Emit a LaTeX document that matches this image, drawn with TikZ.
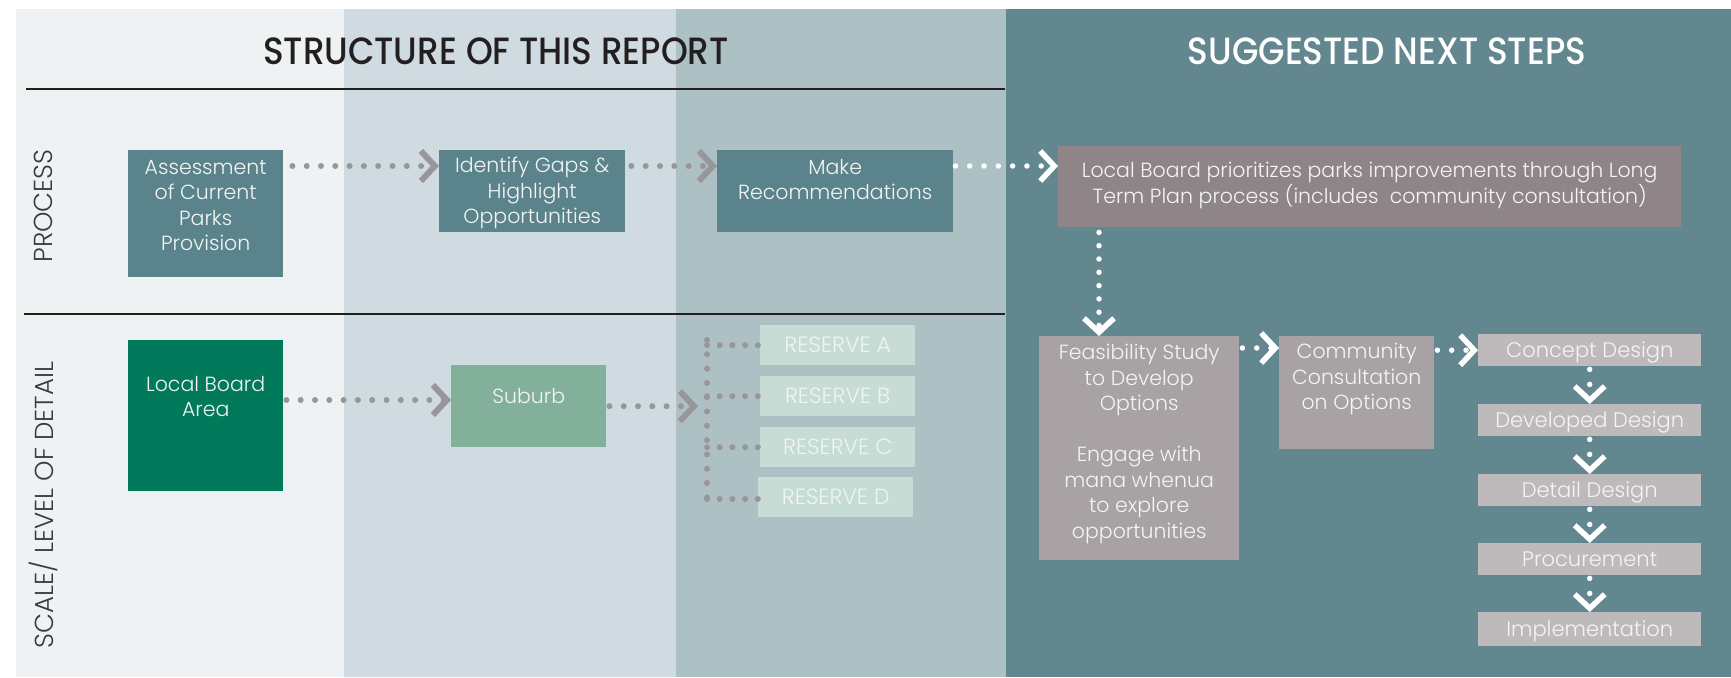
\documentclass[tikz,border=0pt]{standalone}
\usepackage{fontspec}
\setmainfont{Poppins Light}
\newfontfamily\titlefont[FakeStretch=0.9]{Poppins Medium}
\usetikzlibrary{arrows.meta,calc}
\definecolor{bandA}{HTML}{EEF2F3}
\definecolor{bandB}{HTML}{CFDBE0}
\definecolor{bandC}{HTML}{ADC0C4}
\definecolor{bandD}{HTML}{62878F}
\definecolor{tealbox}{HTML}{5B838B}
\definecolor{mauve}{HTML}{8F8588}
\definecolor{greybox}{HTML}{A8A2A5}
\definecolor{lgreybox}{HTML}{BEB9BB}
\definecolor{lbagreen}{HTML}{007A5A}
\definecolor{subgreen}{HTML}{82B09A}
\definecolor{resgreen}{HTML}{C6DCD4}
\definecolor{dotgrey}{HTML}{98969A}
\definecolor{titledark}{HTML}{231F20}
\definecolor{boxtext}{HTML}{F3F5F5}
\definecolor{restext}{HTML}{EEF5F2}
\definecolor{labeldark}{HTML}{3A3A3C}
\newcommand\bodyfont{\fontsize{20.5}{25.5}\selectfont}
\newcommand\boxtxt[4]{\parbox[t][#2pt][t]{#1pt}{\centering\vspace*{#3pt}#4}}
\begin{document}
\begin{tikzpicture}[x=1pt,y=-1pt,
  bx/.style={inner sep=0pt, anchor=north west, text=boxtext, font=\bodyfont},
  sbx/.style={inner sep=0pt, anchor=north west, text=boxtext, font=\fontsize{21}{25}\selectfont,
     text height=16pt, text depth=2pt},
  resbox/.style={sbx, fill=resgreen, text=restext, minimum width=155pt, minimum height=40pt,
     font=\fontsize{22}{25}\selectfont},
  stepbox/.style={sbx, fill=lgreybox, minimum width=223pt, minimum height=32pt},
  titletext/.style={font=\titlefont\fontsize{38}{40}\selectfont, inner sep=0pt},
  vlabel/.style={font=\fontsize{26}{28}\selectfont, text=labeldark, inner sep=0pt, rotate=90},
  rule/.style={draw=titledark, line width=1.6pt},
  gdots/.style={draw=dotgrey, line width=6pt, line cap=round, dash pattern=on 0pt off 14.3pt},
  wdots/.style={draw=white, line width=5.5pt, line cap=round, dash pattern=on 0pt off 14.3pt},
  gtip/.style={-{Straight Barb[length=14pt,width=30pt]}},
  vdots/.style={wdots, dash pattern=on 0pt off 15pt}
]
\useasboundingbox (0,0) rectangle (1731,677);
\fill[white] (0,0) rectangle (1731,677);
\fill[bandA] (16,9) rectangle (344,677);
\fill[bandB] (344,9) rectangle (676,677);
\fill[bandC] (676,9) rectangle (1006,677);
\fill[bandD] (1006,9) rectangle (1731,677);
\coordinate (r1a) at (26,89);
\coordinate (r1b) at (1005,89);
\coordinate (r2a) at (24,314);
\coordinate (r2b) at (1005,314);
\draw[rule] (r1a) -- (r1b);
\draw[rule] (r2a) -- (r2b);

\node[titletext, text=titledark] (t1) at (496,51) {STRUCTURE OF THIS REPORT};
\node[titletext, text=white] (t2) at (1387,51) {SUGGESTED NEXT STEPS};
\node[vlabel] (lp) at (43,206) {PROCESS};
\node[vlabel] (ls) at (43,505) {SCALE/ LEVEL OF DETAIL};

% process row
\node[bx, fill=tealbox] (assess) at (128,150) {\boxtxt{155}{127}{10}{Assessment\\of Current\\Parks\\Provision}};
\node[bx, fill=tealbox] (ident) at (439,150) {\boxtxt{186}{82}{7}{Identify Gaps \&\\Highlight\\Opportunities}};
\node[bx, fill=tealbox] (make) at (717,150) {\boxtxt{236}{82}{9}{Make\\Recommendations}};
\node[bx, fill=mauve] (prior) at (1058,146) {\boxtxt{623}{81}{16}{Local Board prioritizes parks improvements through Long\\Term Plan process (includes~ community consultation)}};

% scale row
\node[bx, fill=lbagreen] (lba) at (128,340) {\boxtxt{155}{151}{36}{Local Board\\Area}};
\node[bx, fill=subgreen] (suburb) at (451,365) {\boxtxt{155}{82}{23}{Suburb}};
\node[resbox] (resA) at (760,325) {RESERVE A};
\node[resbox] (resB) at (760,376) {RESERVE B};
\node[resbox] (resC) at (760,427) {RESERVE C};
\node[resbox] (resD) at (758,477) {RESERVE D};
\coordinate (spT) at (707,340);
\coordinate (spB) at (707,499);

% next steps
\node[bx, fill=greybox] (feas) at (1039,336) {\boxtxt{200}{224}{8}{Feasibility Study\\to Develop\\Options\\[25.5pt]Engage with\\mana whenua\\to explore\\opportunities}};
\node[bx, fill=greybox] (comm) at (1279,336) {\boxtxt{155}{113}{7}{Community\\Consultation\\on Options}};
\node[stepbox] (concept) at (1478,334) {Concept Design};
\node[stepbox] (devd) at (1478,404) {Developed Design};
\node[stepbox] (detd) at (1478,474) {Detail Design};
\node[stepbox] (proc) at (1478,543) {Procurement};
\node[stepbox, minimum height=34pt] (impl) at (1478,612) {Implementation};
\coordinate (fx) at ($(feas.north west)+(60,0)$);

% connectors
\draw[gdots, gtip, shorten <=9pt] ([yshift=-16pt]assess.north east) -- ([yshift=-16pt]ident.north west);
\draw[gdots, gtip, shorten <=6pt] ([yshift=-16pt]ident.north east) -- ([yshift=-16pt]make.north west);
\draw[wdots, gtip, shorten <=2pt] ([yshift=-16pt]make.north east) -- ([yshift=-20pt]prior.north west);
\draw[gdots, gtip, shorten <=3pt] ([yshift=-60pt]lba.north east) -- ([yshift=-35pt]suburb.north west);
\draw[gdots, gtip, shorten <=3pt, shorten >=9pt] (suburb.east) -- (suburb.east -| spT);
\draw[gdots] (spT) -- (spB);
\draw[gdots, dash pattern=on 0pt off 12.7pt] (spT |- resA.west) -- (resA.west);
\draw[gdots, dash pattern=on 0pt off 12.7pt] (spT |- resB.west) -- (resB.west);
\draw[gdots, dash pattern=on 0pt off 12.7pt] (spT |- resC.west) -- (resC.west);
\draw[gdots, dash pattern=on 0pt off 12.7pt] (spB) -- (spB -| resD.west);
\draw[wdots, dash pattern=on 0pt off 13.3pt, gtip, shorten <=5pt] (prior.south -| fx) -- (fx);
\draw[wdots, gtip, shorten <=3pt] ([yshift=-12pt]feas.north east) -- ([yshift=-12pt]comm.north west);
\draw[wdots, gtip, shorten <=3pt] (comm.east |- concept.west) -- (concept.west);
\draw[vdots, gtip, shorten <=3pt] (concept.south) -- (devd.north);
\draw[vdots, gtip, shorten <=3pt] (devd.south) -- (detd.north);
\draw[vdots, gtip, shorten <=3pt] (detd.south) -- (proc.north);
\draw[vdots, gtip, shorten <=3pt] (proc.south) -- (impl.north);
\end{tikzpicture}
\end{document}
